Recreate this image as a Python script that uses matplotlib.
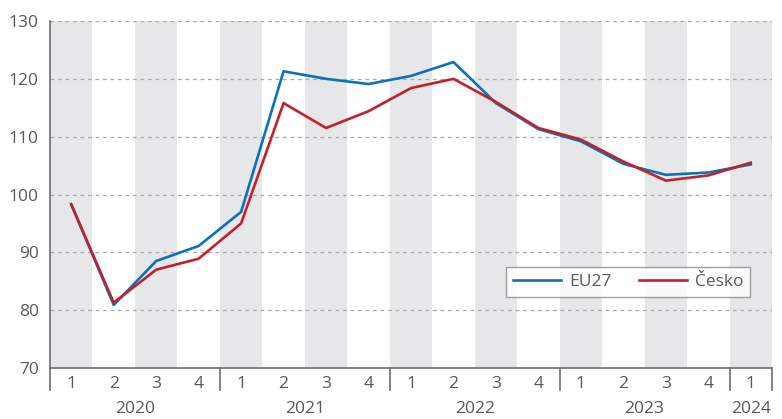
import matplotlib.pyplot as plt
import matplotlib.transforms as mtransforms

plt.rcParams['font.family'] = ['Open Sans', 'DejaVu Sans']

quarters = ['1', '2', '3', '4'] * 4 + ['1']
years = ['2020', '2021', '2022', '2023', '2024']
year_sizes = [4, 4, 4, 4, 1]

eu27 = [98.3, 80.9, 88.5, 91.1, 97.0, 121.3, 120.0, 119.1, 120.5, 122.9,
        115.8, 111.3, 109.2, 105.3, 103.4, 103.8, 105.2]
cesko = [98.3, 81.3, 87.0, 88.9, 95.0, 115.8, 111.5, 114.4, 118.4, 120.0,
         116.0, 111.5, 109.5, 105.7, 102.4, 103.3, 105.5]

text_col = '#595959'
axis_col = '#6d6e70'

fig = plt.figure(figsize=(7.82, 4.19), dpi=100)
ax = fig.add_axes([50 / 782, 51 / 419, 722 / 782, 347 / 419])

x = list(range(len(quarters)))
for i in x:
    if i % 2 == 0:
        ax.axvspan(i - 0.5, i + 0.5, color='#e6e7e8', lw=0, zorder=0)

for y in range(80, 131, 10):
    ax.axhline(y, color='#a7a9ac', lw=0.9, ls=(0, (3, 3)), zorder=1)

ax.plot(x, eu27, color='#0a72b8', lw=1.9, label='EU27', zorder=3)
ax.plot(x, cesko, color='#c3202a', lw=1.9, label='Česko', zorder=3)

ax.set_xlim(-0.5, len(quarters) - 0.5)
ax.set_ylim(70, 130)
ax.set_yticks(range(70, 131, 10))
ax.set_xticks(x)
ax.set_xticklabels(quarters)
ax.tick_params(axis='both', length=0, labelsize=12.5, colors=text_col)
ax.tick_params(axis='x', pad=6)
ax.tick_params(axis='y', pad=8)

for s in ['top', 'right']:
    ax.spines[s].set_visible(False)
for s in ['left', 'bottom']:
    ax.spines[s].set_color(axis_col)
    ax.spines[s].set_linewidth(1.2)

trans = mtransforms.blended_transform_factory(ax.transData, ax.transAxes)
start = -0.5
bounds = [start]
for name, n in zip(years, year_sizes):
    ax.text(start + n / 2, -0.117, name, transform=trans, ha='center',
            va='center', fontsize=12.5, color=text_col)
    start += n
    bounds.append(start)
for b in bounds:
    ax.plot([b, b], [0, -0.063], transform=trans, color=axis_col, lw=1.2,
            clip_on=False)

leg = ax.legend(ncol=2, loc='lower right', bbox_to_anchor=(0.9695, 0.205),
                fontsize=12.5, frameon=True, fancybox=False, handlelength=2.75,
                columnspacing=1.6, borderpad=0.4, handletextpad=0.45,
                borderaxespad=0)
leg.get_frame().set_edgecolor('#8a8a8a')
leg.get_frame().set_linewidth(1.0)
for t in leg.get_texts():
    t.set_color(text_col)

fig.savefig('out.png', dpi=100)
